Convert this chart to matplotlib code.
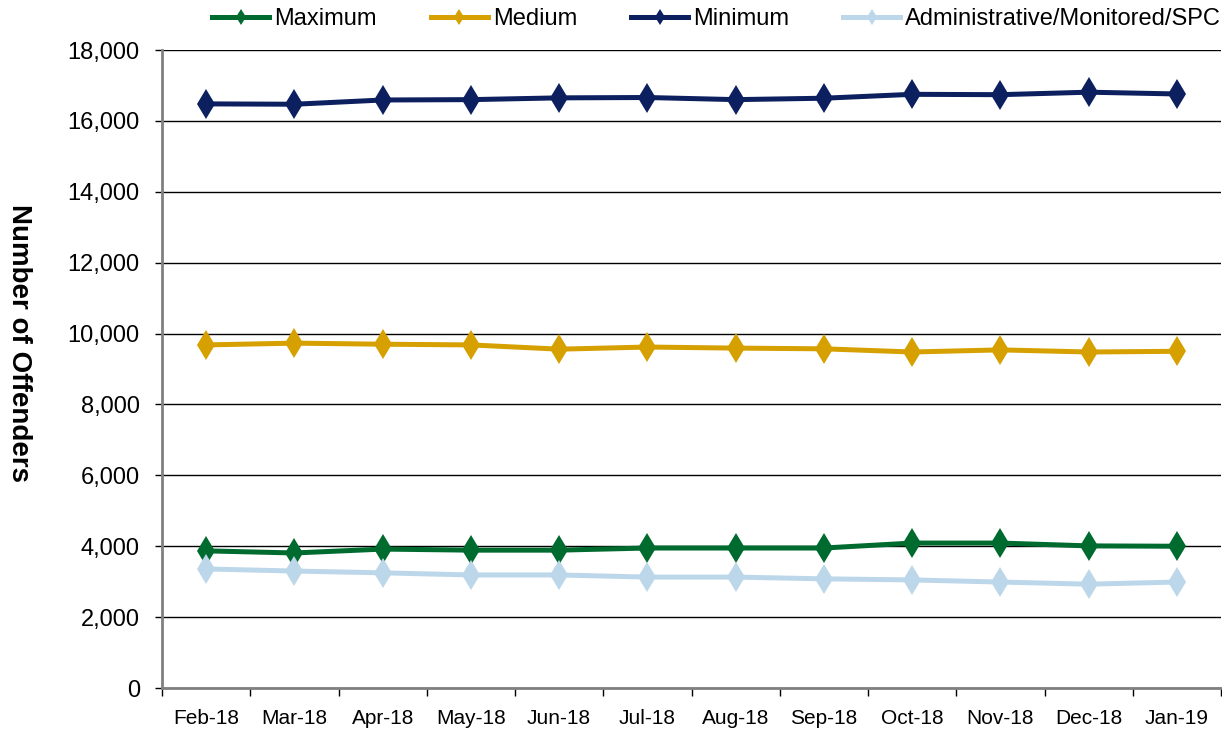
import matplotlib.pyplot as plt
from matplotlib.ticker import FuncFormatter, MultipleLocator, FixedLocator

months = ["Feb-18", "Mar-18", "Apr-18", "May-18", "Jun-18", "Jul-18",
          "Aug-18", "Sep-18", "Oct-18", "Nov-18", "Dec-18", "Jan-19"]

maximum = [3870, 3810, 3920, 3890, 3890, 3950, 3950, 3950, 4090, 4090, 4010, 4000]
medium = [9680, 9730, 9700, 9680, 9560, 9620, 9590, 9570, 9480, 9540, 9480, 9500]
minimum = [16480, 16470, 16590, 16600, 16650, 16660, 16600, 16640, 16750, 16740, 16810, 16760]
admin = [3360, 3300, 3250, 3190, 3190, 3130, 3130, 3080, 3050, 2990, 2930, 2990]

series_names = ["Maximum", "Medium", "Minimum", "Administrative/Monitored/SPC"]
series_colors = ["#006B2E", "#D6A000", "#0C1F5E", "#BDD7EA"]

plt.rcParams["font.family"] = ["Liberation Sans", "DejaVu Sans"]

fig = plt.figure(figsize=(12.22, 7.29), dpi=100)
ax = fig.add_axes([0.1326, 0.0562, 0.8666, 0.8752])

x = list(range(len(months)))
for name, vals, col in zip(series_names, [maximum, medium, minimum, admin], series_colors):
    ax.plot(x, vals, color=col, linewidth=3.6, marker="d", markersize=15,
            markeredgewidth=0, label=name, zorder=3)

ax.set_xlim(-0.5, len(months) - 0.5)
ax.set_ylim(0, 18000)
ax.yaxis.set_major_locator(MultipleLocator(2000))
ax.yaxis.set_major_formatter(FuncFormatter(lambda v, p: f"{int(v):,}"))
ax.grid(axis="y", color="black", linewidth=1.0, zorder=1)

# category labels centred, tick marks between categories
ax.set_xticks(x)
ax.set_xticklabels(months, fontsize=15)
ax.tick_params(axis="x", which="major", length=0, pad=15)
ax.xaxis.set_minor_locator(FixedLocator([i - 0.5 for i in range(len(months) + 1)]))
ax.tick_params(axis="x", which="minor", length=6, direction="out", width=1)
ax.tick_params(axis="y", labelsize=17, length=5, width=1, direction="out", pad=11)

for s in ["top", "right"]:
    ax.spines[s].set_visible(False)
ax.spines["left"].set_color("#808080")
ax.spines["left"].set_linewidth(2)
ax.spines["bottom"].set_color("#808080")
ax.spines["bottom"].set_linewidth(2)

ax.set_ylabel("Number of Offenders", fontsize=20, fontweight="bold", rotation=-90,
              va="center", ha="center")
ax.yaxis.set_label_coords((19 - 162) / 1060, (688 - 343) / 638)

fig.legend(loc="center left", bbox_to_anchor=(212 / 1222, 1 - 19 / 729), ncol=4,
           frameon=False, borderpad=0, borderaxespad=0, fontsize=17, markerscale=0.55,
           handlelength=2.42, columnspacing=2.29, handletextpad=0.21)

fig.savefig("out.png", dpi=100)
